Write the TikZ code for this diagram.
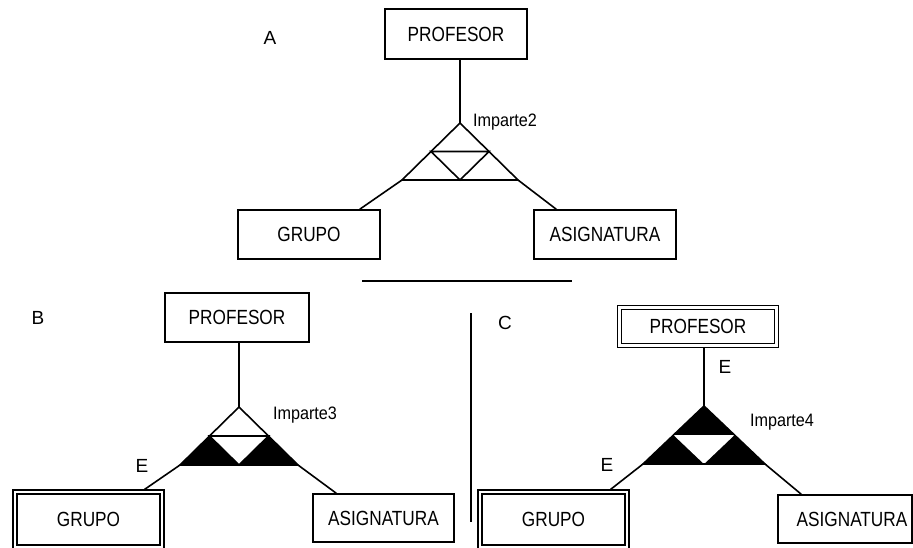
\documentclass[tikz,border=0pt]{standalone}
\usepackage{fontspec}
\setmainfont{Liberation Sans}
\newfontfamily\narfont[FakeStretch=0.84]{Liberation Sans}
\newfontfamily\relfont[FakeStretch=0.9]{Liberation Sans}
\usetikzlibrary{calc}
\begin{document}
\begin{tikzpicture}[x=1pt,y=-1pt,line width=1.6pt,
  ent/.style={draw,rectangle,inner sep=0pt,font=\narfont\fontsize{20.5}{24}\selectfont},
  went/.style={ent,double,double distance=2.8pt,line width=1.3pt},
  lbl/.style={font=\fontsize{19}{23}\selectfont,inner sep=0pt},
  rel/.style={font=\relfont\fontsize{18}{22}\selectfont,inner sep=0pt},
  blk/.style={fill=black,draw=none}]
\useasboundingbox (0,0) rectangle (913,547);
\clip (0,0) rectangle (913,547);

% ---------- A ----------
\node[lbl] (labA) at (270,38) {A};
\node[ent,minimum width=142pt,minimum height=50pt] (pA) at (456,34) {PROFESOR};
\node[ent,minimum width=142pt,minimum height=49pt] (gA) at (309,234.5) {GRUPO};
\node[ent,minimum width=142pt,minimum height=49pt] (aA) at (605,234.5) {ASIGNATURA};
\coordinate (tAa) at (460,123);
\coordinate (tAl) at (402,180);
\coordinate (tAr) at (518,180);
\coordinate (tAml) at ($(tAa)!0.5!(tAl)$);
\coordinate (tAmr) at ($(tAa)!0.5!(tAr)$);
\coordinate (tAmb) at ($(tAl)!0.5!(tAr)$);
\draw (tAa) -- (tAl) -- (tAr) -- cycle;
\draw (tAml) -- (tAmr) -- (tAmb) -- cycle;
\node[rel] (iA) at (505,122) {Imparte2};
\draw (pA.south -| tAa) -- (tAa);
\draw ($(gA.north east)+(-21,0)$) -- (tAl);
\draw ($(aA.north west)+(23,0)$) -- (tAr);

% separators
\coordinate (hs1) at (362,281);
\coordinate (hs2) at (572,281);
\draw (hs1) -- (hs2);
\coordinate (vs1) at (471,313);
\coordinate (vs2) at (471,522);
\draw (vs1) -- (vs2);

% ---------- B ----------
\node[lbl] (labB) at (38,318) {B};
\node[ent,minimum width=144pt,minimum height=49pt] (pB) at (237,317.5) {PROFESOR};
\node[went,minimum width=147pt,minimum height=55pt] (gB) at (88.5,519.5) {GRUPO};
\node[ent,minimum width=141pt,minimum height=48pt] (aB) at (383.5,518) {ASIGNATURA};
\coordinate (tBa) at (239,407);
\coordinate (tBl) at (180,465);
\coordinate (tBr) at (298,465);
\coordinate (tBml) at ($(tBa)!0.5!(tBl)$);
\coordinate (tBmr) at ($(tBa)!0.5!(tBr)$);
\coordinate (tBmb) at ($(tBl)!0.5!(tBr)$);
\fill[blk] (tBl) -- (tBml) -- (tBmb) -- cycle;
\fill[blk] (tBmb) -- (tBmr) -- (tBr) -- cycle;
\draw (tBa) -- (tBl) -- (tBr) -- cycle;
\draw (tBml) -- (tBmr) -- (tBmb) -- cycle;
\node[rel] (iB) at (305,415) {Imparte3};
\draw (pB.south -| tBa) -- (tBa);
\draw ($(gB.north east)+(-18,-2)$) -- (tBl);
\draw ($(aB.north west)+(24,0)$) -- (tBr);
\node[lbl] (eB) at (142,466) {E};

% ---------- C ----------
\node[lbl] (labC) at (505,323) {C};
\node[went,minimum width=157.5pt,minimum height=38pt] (pC) at (698,326.5) {PROFESOR};
\node[went,minimum width=147pt,minimum height=55pt] (gC) at (553.5,519.5) {GRUPO};
\node[ent,minimum width=134pt,minimum height=48pt] (aC) at (845,519) {\hspace*{14pt}ASIGNATURA};
\coordinate (tCa) at (704,406);
\coordinate (tCl) at (643,464);
\coordinate (tCr) at (765,464);
\coordinate (tCml) at ($(tCa)!0.5!(tCl)$);
\coordinate (tCmr) at ($(tCa)!0.5!(tCr)$);
\coordinate (tCmb) at ($(tCl)!0.5!(tCr)$);
\fill[blk] (tCa) -- (tCl) -- (tCr) -- cycle;
\fill[white] (tCml) -- (tCmr) -- (tCmb) -- cycle;
\draw (tCa) -- (tCl) -- (tCr) -- cycle;
\node[rel] (iC) at (782,422) {Imparte4};
\draw ($(pC.south -| tCa)+(0,2)$) -- (tCa);
\draw ($(gC.north east)+(-17,-2)$) -- (tCl);
\draw ($(aC.north west)+(24,0)$) -- (tCr);
\node[lbl] (eC1) at (725,367) {E};
\node[lbl] (eC2) at (607,465) {E};
\end{tikzpicture}
\end{document}
